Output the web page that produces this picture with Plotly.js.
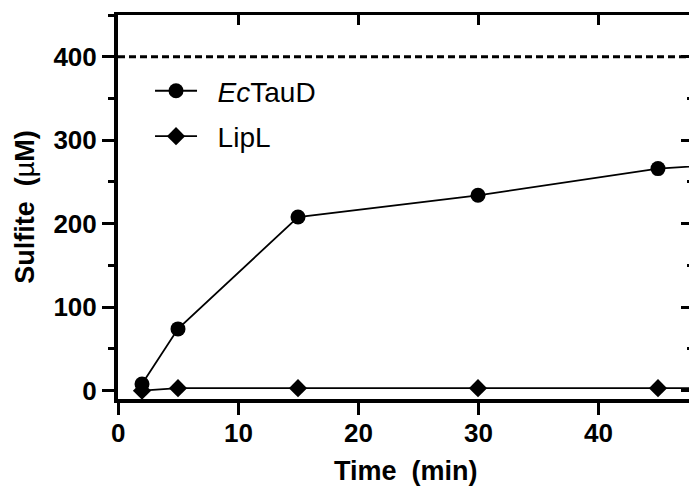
<!DOCTYPE html>
<html>
<head>
<meta charset="utf-8">
<script src="https://cdn.plot.ly/plotly-3.0.1.min.js"></script>
<style>
  html, body { margin: 0; padding: 0; overflow: hidden; background: #fff; }
  #chart { width: 700px; height: 493px; }
</style>
</head>
<body>
<div id="chart"></div>
<script>
// ---- data ----
const timeMin      = [2, 5, 15, 30, 45, 60];
const ecTauD       = [8, 74, 208, 234, 266, 280];
const lipL         = [0, 3, 3, 3, 3, 3];
const seriesNames  = ['<i>Ec</i>TauD', 'LipL'];
const xTickVals    = [0, 10, 20, 30, 40];
const yTickVals    = [0, 100, 200, 300, 400];
const maxSulfite   = 400;   // dashed reference level

const FONT = 'Liberation Sans, Arial, Helvetica, sans-serif';
const PAD = '\u00a0\u00a0';

const traces = [
  {
    x: timeMin, y: lipL, name: PAD + seriesNames[1], type: 'scatter', mode: 'lines+markers',
    xaxis: 'x', yaxis: 'y',
    line: {color: '#000', width: 1.8},
    marker: {symbol: 'diamond', size: 14, color: '#000'},
    legendrank: 2, legendgroup: 'b'
  },
  {
    x: timeMin, y: ecTauD, name: PAD + seriesNames[0], type: 'scatter', mode: 'lines+markers',
    xaxis: 'x2', yaxis: 'y2',
    line: {color: '#000', width: 1.8},
    marker: {symbol: 'circle', size: 15, color: '#000'},
    legendrank: 1, legendgroup: 'a'
  }
];

// x tick labels placed through the x scale (pushed lower than Plotly's default spot)
const xLabelAnns = xTickVals.map(v => ({
  text: '<b>' + v + '</b>', xref: 'x', yref: 'paper', x: v, y: 0,
  xanchor: 'center', yanchor: 'middle', yshift: -34, showarrow: false,
  font: {family: FONT, size: 26, color: '#000'}
}));

const layout = {
  width: 700, height: 493,
  margin: {l: 118, r: 6, t: 15, b: 94},
  paper_bgcolor: '#fff', plot_bgcolor: '#fff',
  font: {family: FONT, color: '#000'},
  showlegend: true,
  legend: {
    x: 0.0556, y: 0.867, xanchor: 'left', yanchor: 'top',
    bgcolor: 'rgba(0,0,0,0)',
    font: {family: FONT, size: 28, color: '#000'},
    itemwidth: 42,
    traceorder: 'grouped', tracegroupgap: 6
  },
  xaxis: {
    range: [0, 48], tickvals: xTickVals, showticklabels: false,
    ticks: 'outside', ticklen: 12, tickwidth: 3, tickcolor: '#000',
    showline: true, linewidth: 4, linecolor: '#000',
    showgrid: false, zeroline: false,
    title: {text: ''}
  },
  yaxis: {
    range: [-10, 450], tickvals: yTickVals, ticktext: yTickVals.map(String),
    ticks: 'outside', ticklen: 12, tickwidth: 3, tickcolor: '#000',
    minor: {dtick: 50, ticks: 'outside', ticklen: 6, tickwidth: 3, tickcolor: '#000', showgrid: false},
    showline: true, linewidth: 4, linecolor: '#000',
    showgrid: false, zeroline: false,
    tickfont: {family: FONT, size: 26, weight: 'bold', color: '#000'},
    title: {text: '<b>Sulfite\u00a0\u00a0(</b>µ<b>M)</b>', font: {family: FONT, size: 27, color: '#000'}, standoff: 12}
  },
  xaxis2: {
    overlaying: 'x', side: 'top', anchor: 'y2', range: [0, 48], tickvals: xTickVals,
    showticklabels: false, ticks: 'inside', ticklen: 10, tickwidth: 3, tickcolor: '#000',
    showline: true, linewidth: 3, linecolor: '#000', showgrid: false, zeroline: false
  },
  yaxis2: {
    overlaying: 'y', side: 'right', anchor: 'x2', range: [-10, 450], tickvals: yTickVals,
    showticklabels: false, ticks: 'inside', ticklen: 13, tickwidth: 3, tickcolor: '#000',
    minor: {dtick: 50, ticks: 'inside', ticklen: 7, tickwidth: 3, tickcolor: '#000', showgrid: false},
    showline: true, linewidth: 3, linecolor: '#000', showgrid: false, zeroline: false
  },
  annotations: xLabelAnns.concat([{
    // x-axis title
    text: '<b>Time\u00a0\u00a0(min)</b>', xref: 'paper', yref: 'paper',
    x: 0.5, y: 0, xanchor: 'center', yanchor: 'middle', yshift: -72,
    showarrow: false, font: {family: FONT, size: 27, color: '#000'}
  }]),
  shapes: [{
    type: 'line', xref: 'paper', x0: 0, x1: 1, yref: 'y', y0: maxSulfite, y1: maxSulfite,
    line: {color: '#000', width: 3, dash: '7px,4px'}
  }]
};

Plotly.newPlot('chart', traces, layout, {displayModeBar: false, staticPlot: true});
</script>
</body>
</html>
